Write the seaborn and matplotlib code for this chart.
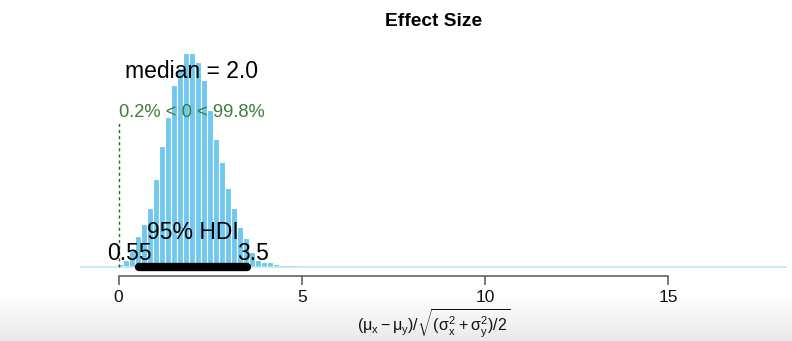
import numpy as np
import pandas as pd
import matplotlib
matplotlib.use("Agg")
import matplotlib.pyplot as plt
import matplotlib.transforms as mtransforms
import seaborn as sns

# ---------------- data ----------------
title = "Effect Size"
hdi_low, hdi_high = 0.55, 3.5
median_val = 2.0
comp_val = 0.0
pct_below, pct_above = 0.2, 99.8
bin_width = (hdi_high - hdi_low) / 18.0
first_bin_left = -0.202
sample_min, sample_max = -1.02, 18.22
densities = [0.004, 0.010, 0.018, 0.044, 0.080, 0.113, 0.152, 0.229, 0.314,
             0.387, 0.469, 0.515, 0.552, 0.552, 0.528, 0.482, 0.405, 0.330,
             0.271, 0.204, 0.152, 0.103, 0.075, 0.039, 0.018, 0.015, 0.013,
             0.008, 0.005, 0.006, 0.005, 0.004, 0.003, 0.003]
x_ticks = [0, 5, 10, 15]
x_label = r"$(\mu_x - \mu_y)/\sqrt{(\sigma_x^2 + \sigma_y^2)/2}$"

# ---------------- figure ----------------
sns.set_style("white")
plt.rcParams["font.family"] = ["Liberation Sans", "DejaVu Sans"]
plt.rcParams["text.color"] = "black"
plt.rcParams["mathtext.fontset"] = "custom"
plt.rcParams["mathtext.rm"] = "Liberation Sans"
plt.rcParams["mathtext.it"] = "Liberation Sans"
plt.rcParams["mathtext.bf"] = "Liberation Sans:bold"

W, H = 792, 341
fig = plt.figure(figsize=(W / 100, H / 100), dpi=100)
fig.patch.set_facecolor("white")

# soft gray gradient strip at the bottom (screenshot background)
bg = fig.add_axes([0, 0, 1, 45 / H], zorder=-10)
grad = np.linspace(0, 1, 100).reshape(-1, 1)
bg.imshow(grad, aspect="auto", cmap=matplotlib.colors.LinearSegmentedColormap.from_list(
    "g", ["#e9e9e9", "#ffffff"]), origin="lower", extent=[0, 1, 0, 1])
bg.set_axis_off()

ymax = max(densities)
ylo, yhi = -0.04 * ymax, 1.04 * ymax
xlo = sample_min - 0.04 * (sample_max - sample_min)
xhi = sample_max + 0.04 * (sample_max - sample_min)
left_px, right_px = 53.1, 814.5
top_px, bot_px = 44.6, 276.0
ax = fig.add_axes([left_px / W, (H - bot_px) / H, (right_px - left_px) / W,
                   (bot_px - top_px) / H])
ax.patch.set_alpha(0)

edges = [first_bin_left + bin_width * k for k in range(len(densities) + 1)]
centers = [(a + b) / 2 for a, b in zip(edges[:-1], edges[1:])]
df = pd.DataFrame({"x": centers, "density": densities})

sns.histplot(data=df, x="x", weights="density", bins=edges, stat="count",
             color="#6fc8ee", edgecolor="white", linewidth=0.8, alpha=1,
             ax=ax, zorder=2)

# thin baseline of empty bins across the sample range
ax.plot([sample_min, sample_max], [0, 0], color="#bfe6f6", lw=1.2, zorder=2.5)

ax.set_xlim(xlo, xhi)
ax.set_ylim(ylo, yhi)

# comparison value line and text
cv_ht = 0.7 * ymax
ax.plot([comp_val, comp_val], [0, 0.96 * cv_ht], color="#1e6e1e", lw=1,
        linestyle=(0, (2.2, 2.2)), zorder=3)
ax.text(comp_val, cv_ht, f"{pct_below}% < {comp_val:g} < {pct_above}%",
        color="#3c7f3c", fontsize=13.2, ha="left", va="baseline", zorder=5)

# median text
ax.text(median_val, 0.885 * ymax, f"median = {median_val:.1f}", fontsize=16.5,
        ha="center", va="baseline", color="black", zorder=5)

# HDI bar and labels
ax.plot([hdi_low, hdi_high], [0, 0], color="black", lw=6, solid_capstyle="round",
        zorder=4, clip_on=False)
ax.text((hdi_low + hdi_high) / 2, 0.133 * ymax, "95% HDI", fontsize=16.5,
        ha="center", va="baseline", color="black", zorder=5)
t_lo = ax.text(hdi_low, 0.018, f"{hdi_low:g}", fontsize=16.5, ha="left",
               va="baseline", color="black", zorder=5)
t_hi = ax.text(hdi_high, 0.018, f"{hdi_high:g}", fontsize=16.5, ha="left",
               va="baseline", color="black", zorder=5)

# axis styling
for s in ["top", "right", "left"]:
    ax.spines[s].set_visible(False)
ax.spines["bottom"].set_bounds(x_ticks[0], x_ticks[-1])
ax.spines["bottom"].set_color("#555555")
ax.spines["bottom"].set_linewidth(1.1)
ax.set_xticks(x_ticks)
ax.set_xticklabels([str(t) for t in x_ticks])
ax.tick_params(axis="x", direction="out", length=6.5, width=1.1, color="#555555",
               pad=3.5, labelsize=12.5, labelcolor="#111111", bottom=True)
ax.set_yticks([])
ax.set_xlabel("")
ax.set_ylabel("")

cx = (left_px + right_px) / 2 / W
fig.text(cx, (H - 26) / H, title, fontsize=13.8, fontweight="bold",
         ha="center", va="baseline", color="black")
fig.text(cx, (H - 323.5) / H, x_label, fontsize=11.5, ha="center", va="center",
         color="#111111")

# R-style fractional horizontal adjustment for HDI end labels
fig.canvas.draw()
r = fig.canvas.get_renderer()
for t, frac in [(t_lo, 0.7), (t_hi, 0.3)]:
    w = t.get_window_extent(renderer=r).width
    t.set_transform(mtransforms.offset_copy(ax.transData, fig=fig, x=-frac * w,
                                            y=0, units="dots"))

fig.savefig("out.png", dpi=100)
